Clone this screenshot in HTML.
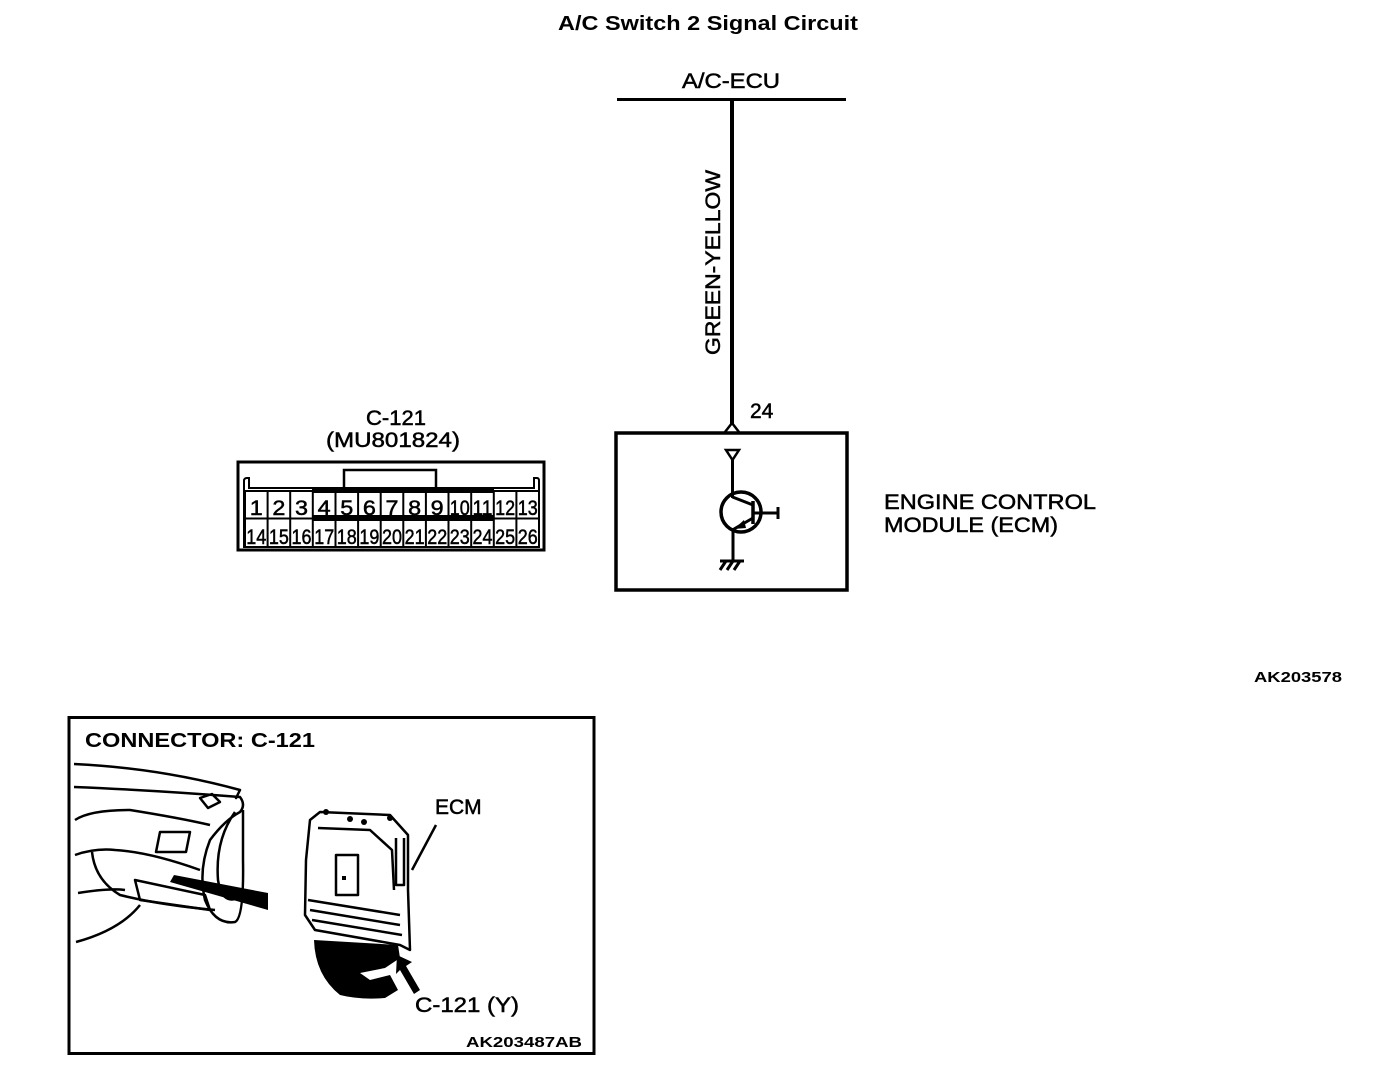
<!DOCTYPE html>
<html><head><meta charset="utf-8"><style>
html,body{margin:0;padding:0;background:#fff;}
svg{display:block;}
text{font-family:"Liberation Sans",Arial,sans-serif;fill:#000;}
.n{stroke:#000;stroke-width:0.5;}
</style></head><body>
<svg width="1392" height="1074" viewBox="0 0 1392 1074" xmlns="http://www.w3.org/2000/svg">
<text x="708" y="30" font-size="20" font-weight="bold" text-anchor="middle" textLength="300" lengthAdjust="spacingAndGlyphs">A/C Switch 2 Signal Circuit</text>
<text class="n" x="731" y="88" font-size="21" text-anchor="middle" textLength="98" lengthAdjust="spacingAndGlyphs">A/C-ECU</text>
<line x1="617" y1="99.5" x2="846" y2="99.5" stroke="#000" stroke-width="3"/>
<line x1="732" y1="100" x2="732" y2="425" stroke="#000" stroke-width="4"/>
<text class="n" transform="translate(720,355) rotate(-90)" font-size="21" textLength="185" lengthAdjust="spacingAndGlyphs">GREEN-YELLOW</text>
<text class="n" x="750" y="418" font-size="21">24</text>
<polyline points="725,432 732,423 739,432" fill="none" stroke="#000" stroke-width="2.5"/>
<rect x="616" y="433" width="231" height="157" fill="none" stroke="#000" stroke-width="3.5"/>
<polygon points="726,450 739,450 732.5,460" fill="#fff" stroke="#000" stroke-width="2.5"/>
<line x1="732.5" y1="460" x2="732.5" y2="498" stroke="#000" stroke-width="3"/>
<circle cx="741" cy="512" r="20" fill="none" stroke="#000" stroke-width="3.5"/>
<line x1="753" y1="501" x2="753" y2="524" stroke="#000" stroke-width="3.5"/>
<line x1="753" y1="513" x2="778" y2="513" stroke="#000" stroke-width="3"/>
<line x1="778" y1="507" x2="778" y2="519" stroke="#000" stroke-width="3"/>
<line x1="732.5" y1="497" x2="753" y2="505" stroke="#000" stroke-width="3"/>
<line x1="753" y1="518" x2="734" y2="529" stroke="#000" stroke-width="3"/>
<polygon points="734,529 744,520 746,528" fill="#000"/>
<line x1="733" y1="528" x2="733" y2="560" stroke="#000" stroke-width="3"/>
<line x1="720" y1="561" x2="744" y2="561" stroke="#000" stroke-width="3"/>
<g stroke="#000" stroke-width="3"><line x1="726" y1="561" x2="720" y2="570"/><line x1="733" y1="561" x2="727" y2="570"/><line x1="740" y1="561" x2="734" y2="570"/></g>
<text class="n" x="884" y="509" font-size="21" textLength="212" lengthAdjust="spacingAndGlyphs">ENGINE CONTROL</text>
<text class="n" x="884" y="532" font-size="21" textLength="174" lengthAdjust="spacingAndGlyphs">MODULE (ECM)</text>
<text class="n" x="396" y="425" font-size="21" text-anchor="middle" textLength="60" lengthAdjust="spacingAndGlyphs">C-121</text>
<text class="n" x="393" y="447" font-size="21" text-anchor="middle" textLength="134" lengthAdjust="spacingAndGlyphs">(MU801824)</text>
<rect x="238" y="462" width="306" height="88" fill="none" stroke="#000" stroke-width="3"/>
<path d="M244,548 V481 Q244,478 247,478 H249 V488 H534 V478 H537 Q539,478 539,481 V548" fill="none" stroke="#000" stroke-width="2"/>
<rect x="344" y="470" width="92" height="20" fill="none" stroke="#000" stroke-width="2.5"/>
<rect x="312" y="487" width="182" height="6" fill="#000"/>
<rect x="312" y="515" width="182" height="6" fill="#000"/>
<g fill="none" stroke="#000" stroke-width="2">
<rect x="245" y="491" width="294" height="56"/>
<line x1="245" y1="518.5" x2="539" y2="518.5"/>
</g>
<g stroke="#000" stroke-width="2">
<line x1="267.6" y1="491" x2="267.6" y2="547"/><line x1="290.2" y1="491" x2="290.2" y2="547"/><line x1="312.8" y1="491" x2="312.8" y2="547"/><line x1="335.5" y1="491" x2="335.5" y2="547"/><line x1="358.1" y1="491" x2="358.1" y2="547"/><line x1="380.7" y1="491" x2="380.7" y2="547"/><line x1="403.3" y1="491" x2="403.3" y2="547"/><line x1="425.9" y1="491" x2="425.9" y2="547"/><line x1="448.5" y1="491" x2="448.5" y2="547"/><line x1="471.2" y1="491" x2="471.2" y2="547"/><line x1="493.8" y1="491" x2="493.8" y2="547"/><line x1="516.4" y1="491" x2="516.4" y2="547"/>
</g>
<g class="n" font-size="21" text-anchor="middle">
<text x="256.3" y="515" textLength="13" lengthAdjust="spacingAndGlyphs">1</text><text x="278.9" y="515" textLength="13" lengthAdjust="spacingAndGlyphs">2</text><text x="301.5" y="515" textLength="13" lengthAdjust="spacingAndGlyphs">3</text><text x="324.2" y="515" textLength="13" lengthAdjust="spacingAndGlyphs">4</text><text x="346.8" y="515" textLength="13" lengthAdjust="spacingAndGlyphs">5</text><text x="369.4" y="515" textLength="13" lengthAdjust="spacingAndGlyphs">6</text><text x="392" y="515" textLength="13" lengthAdjust="spacingAndGlyphs">7</text><text x="414.6" y="515" textLength="13" lengthAdjust="spacingAndGlyphs">8</text><text x="437.2" y="515" textLength="13" lengthAdjust="spacingAndGlyphs">9</text>
<text x="459.8" y="515" textLength="20" lengthAdjust="spacingAndGlyphs">10</text><text x="482.5" y="515" textLength="20" lengthAdjust="spacingAndGlyphs">11</text><text x="505.1" y="515" textLength="20" lengthAdjust="spacingAndGlyphs">12</text><text x="527.7" y="515" textLength="20" lengthAdjust="spacingAndGlyphs">13</text>
</g>
<g class="n" font-size="21" text-anchor="middle">
<text x="256.3" y="544" textLength="20" lengthAdjust="spacingAndGlyphs">14</text><text x="278.9" y="544" textLength="20" lengthAdjust="spacingAndGlyphs">15</text><text x="301.5" y="544" textLength="20" lengthAdjust="spacingAndGlyphs">16</text><text x="324.2" y="544" textLength="20" lengthAdjust="spacingAndGlyphs">17</text><text x="346.8" y="544" textLength="20" lengthAdjust="spacingAndGlyphs">18</text><text x="369.4" y="544" textLength="20" lengthAdjust="spacingAndGlyphs">19</text><text x="392" y="544" textLength="20" lengthAdjust="spacingAndGlyphs">20</text><text x="414.6" y="544" textLength="20" lengthAdjust="spacingAndGlyphs">21</text><text x="437.2" y="544" textLength="20" lengthAdjust="spacingAndGlyphs">22</text><text x="459.8" y="544" textLength="20" lengthAdjust="spacingAndGlyphs">23</text><text x="482.5" y="544" textLength="20" lengthAdjust="spacingAndGlyphs">24</text><text x="505.1" y="544" textLength="20" lengthAdjust="spacingAndGlyphs">25</text><text x="527.7" y="544" textLength="20" lengthAdjust="spacingAndGlyphs">26</text>
</g>
<text x="1342" y="682" font-size="15" font-weight="bold" text-anchor="end" textLength="88" lengthAdjust="spacingAndGlyphs">AK203578</text>
<rect x="69" y="717.5" width="525" height="336" fill="none" stroke="#000" stroke-width="3"/>
<text x="85" y="747" font-size="20" font-weight="bold" textLength="230" lengthAdjust="spacingAndGlyphs">CONNECTOR: C-121</text>
<text x="582" y="1047" font-size="15" font-weight="bold" text-anchor="end" textLength="116" lengthAdjust="spacingAndGlyphs">AK203487AB</text>
<g fill="none" stroke="#000" stroke-width="2.5" stroke-linejoin="round">
<path d="M74,764 Q160,768 240,790 L236,798 L238,795"/>
<path d="M74,787 Q150,790 240,797 Q246,805 240,812 Q225,820 210,840 Q198,870 205,900 Q215,925 235,922 Q244,918 243,860 L243,810"/>
<path d="M75,820 Q90,810 130,810 Q180,818 210,825"/>
<path d="M200,798 L212,794 L220,802 L208,808 Z"/>
<path d="M160,832 H190 L186,852 H156 Z"/>
<path d="M75,855 Q95,848 115,850 Q150,852 200,870"/>
<path d="M92,852 Q95,880 120,895 Q160,905 215,910"/>
<path d="M78,893 Q110,888 125,890"/>
<path d="M76,942 Q120,930 140,905"/>
<path d="M135,880 L205,895 L210,910 L140,900 Z"/>
<path d="M235,812 Q215,840 218,880 Q222,905 238,898"/>
<path d="M310,820 L320,812 L390,815 L408,835 L408,890 L410,950 L400,945 L315,930 L305,915 L306,860 Z"/>
<path d="M318,828 L370,830 L392,850 L394,890"/>
<path d="M336,855 H358 V895 H336 Z"/>
<path d="M404,838 L404,885 L396,885 L396,838"/>
<path d="M308,900 L400,915 M310,910 L400,925 M312,920 L402,935"/>
<path d="M412,870 L436,825"/>
</g>
<circle cx="326" cy="812" r="3" fill="#000"/><circle cx="350" cy="819" r="3" fill="#000"/><circle cx="364" cy="822" r="3" fill="#000"/><circle cx="390" cy="818" r="3" fill="#000"/>
<rect x="342" y="876" width="4" height="4" fill="#000"/>
<polygon points="174,875 268,893 268,910 170,882" fill="#000"/>
<path d="M314,940 Q315,975 340,995 Q360,1000 385,998 L398,990 L390,975 L370,980 L360,973 L385,968 L400,958 L398,945 Z" fill="#000"/>
<polygon points="397,955 412,962 406,966 420,990 414,994 400,970 396,974" fill="#000"/>
<text class="n" x="435" y="814" font-size="21">ECM</text>
<text class="n" x="415" y="1012" font-size="21" textLength="104" lengthAdjust="spacingAndGlyphs">C-121 (Y)</text>
</svg>
</body></html>
